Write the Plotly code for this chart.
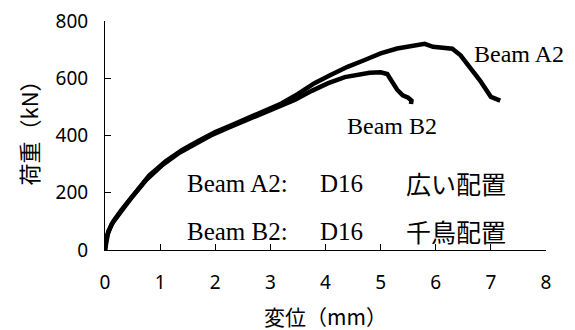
import plotly.graph_objects as go

# Beam A2 load-displacement
a2_disp = [0, 0.02, 0.06, 0.15, 0.3, 0.5, 0.8, 1.1, 1.4, 1.7, 2.0, 2.3, 2.6, 2.9, 3.2, 3.5,
           3.8, 4.1, 4.4, 4.7, 5.0, 5.3, 5.5, 5.8, 5.95, 6.3, 6.45, 6.8, 7.0, 7.1, 7.17]
a2_load = [0, 35, 65, 100, 140, 190, 260, 310, 350, 382, 412, 436, 460, 484, 512, 545,
           583, 612, 640, 663, 687, 704, 712, 720, 710, 703, 680, 593, 535, 528, 522]

# Beam B2 load-displacement
b2_disp = [0, 0.02, 0.05, 0.12, 0.25, 0.45, 0.75, 1.05, 1.35, 1.65, 1.95, 2.25, 2.55, 2.85,
           3.15, 3.45, 3.75, 4.05, 4.35, 4.6, 4.8, 5.0, 5.12, 5.3, 5.4, 5.5, 5.56, 5.55]
b2_load = [0, 25, 55, 90, 125, 175, 245, 298, 340, 373, 403, 428, 452, 476,
           497, 525, 556, 583, 604, 614, 619, 621, 615, 560, 540, 532, 522, 510]

x_ticks = [0, 1, 2, 3, 4, 5, 6, 7, 8]
y_ticks = [0, 200, 400, 600, 800]

fig = go.Figure()
fig.add_trace(go.Scatter(x=a2_disp, y=a2_load, mode="lines",
                         line=dict(color="black", width=4.5), name="Beam A2"))
fig.add_trace(go.Scatter(x=b2_disp, y=b2_load, mode="lines",
                         line=dict(color="black", width=4.5), name="Beam B2"))

serif = dict(family="Liberation Serif, Times New Roman, serif", size=25, color="black")
serif_sm = dict(family="Liberation Serif, Times New Roman, serif", size=24, color="black")
cjk = dict(family="Noto Sans CJK JP", size=25, color="black")
title_font = dict(family="Noto Sans CJK JP", size=21, color="black")
ytitle_font = dict(family="Noto Sans CJK JP", size=22, color="black")

annotations = [
    dict(x=6.66, y=686, text="Beam A2", xanchor="left", yanchor="middle", font=serif_sm),
    dict(x=4.36, y=433, text="Beam B2", xanchor="left", yanchor="middle", font=serif_sm),
    dict(x=1.45, y=234, text="Beam A2:", xanchor="left", yanchor="middle", font=serif),
    dict(x=3.87, y=234, text="D16", xanchor="left", yanchor="middle", font=serif),
    dict(x=5.42, y=234, text="広い配置", xanchor="left", yanchor="middle", font=cjk),
    dict(x=1.45, y=65, text="Beam B2:", xanchor="left", yanchor="middle", font=serif),
    dict(x=3.87, y=65, text="D16", xanchor="left", yanchor="middle", font=serif),
    dict(x=5.42, y=65, text="千鳥配置", xanchor="left", yanchor="middle", font=cjk),
    dict(x=0, xref="paper", y=0.5, yref="paper", xshift=-78, yshift=8, text="荷重（kN）",
         textangle=-90, xanchor="center", yanchor="middle", showarrow=False, font=ytitle_font),
    dict(x=0.5, xref="paper", y=0, yref="paper", yshift=-66, text="変位（mm）",
         xanchor="center", yanchor="middle", showarrow=False, font=title_font),
]
for a in annotations:
    a.setdefault("showarrow", False)

fig.update_layout(
    width=575, height=330,
    margin=dict(l=97, r=37, t=13, b=88),
    paper_bgcolor="white", plot_bgcolor="white",
    showlegend=False,
    annotations=annotations,
    xaxis=dict(range=[0, 8], tickvals=x_ticks, ticks="inside", ticklen=6, tickcolor="black",
               showline=True, linecolor="black", linewidth=1, showgrid=False, zeroline=False,
               automargin=False, ticklabeloverflow="allow",
               tickfont=dict(family="Noto Sans", size=19, color="black"), ticklabelstandoff=15),
    yaxis=dict(range=[0, 800], tickvals=y_ticks, ticks="inside", ticklen=6, tickcolor="black",
               showline=True, linecolor="black", linewidth=1, showgrid=False, zeroline=False,
               automargin=False, ticklabeloverflow="allow",
               tickfont=dict(family="Noto Sans", size=19, color="black"), ticklabelstandoff=12),
)

fig.write_html("out.html")
